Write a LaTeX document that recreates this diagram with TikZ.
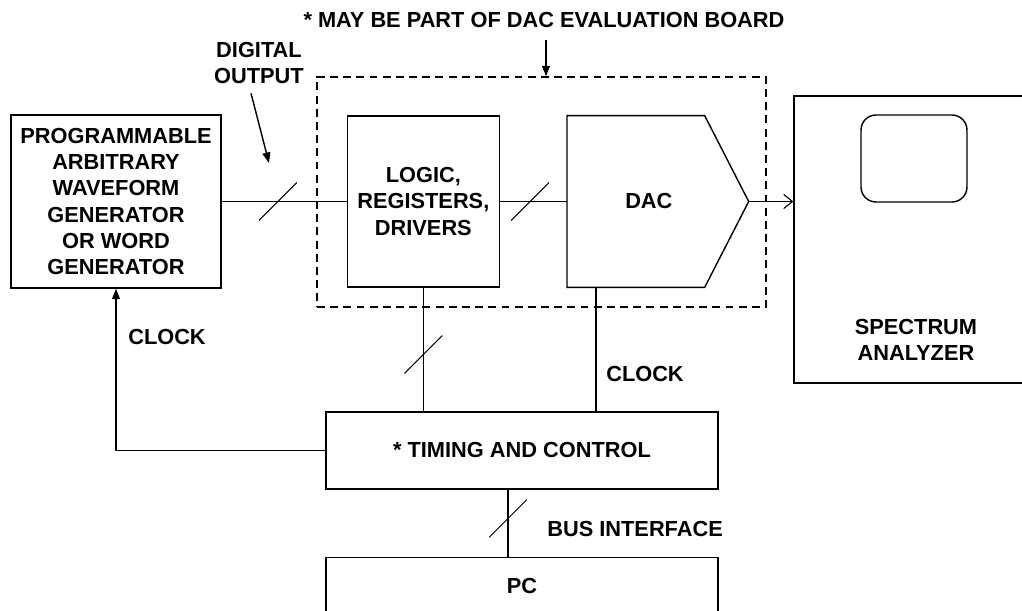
\documentclass[tikz,border=0pt]{standalone}
\usepackage{fontspec}
\setmainfont{Liberation Sans}
\usetikzlibrary{shapes, arrows, arrows.meta, positioning, fit}

\begin{document}
\begin{tikzpicture}[
    x=0.02cm, y=-0.02cm,
    txt/.style={font=\bfseries\fontsize{12.4}{15}\selectfont, align=center, inner sep=0pt},
    box/.style={draw=black, rectangle, thick, txt},
    slash/.style={inner sep=0pt, minimum size=0.76cm, path picture={\draw[line width=0.6pt] (path picture bounding box.south west) -- (path picture bounding box.north east);}},
    wire/.style={line width=0.8pt},
    arrow/.style={->, >={Triangle[length=6pt, width=4.5pt]}, line width=0.8pt},
    openarrow/.style={->, >={Straight Barb[length=5pt, width=8pt]}, line width=0.6pt}
]
\clip (0,0) rectangle (1022,611);

% signal chain
\node[box, minimum width=4.2cm, minimum height=3.46cm] (gen) at (116,201.5) {PROGRAMMABLE\\ARBITRARY\\WAVEFORM\\GENERATOR\\OR WORD\\GENERATOR};
\node[box, minimum width=3.04cm, minimum height=3.42cm, right=2.5cm of gen] (logic) {LOGIC,\\REGISTERS,\\DRIVERS};
\node[txt, minimum width=3.62cm, minimum height=3.42cm, right=1.34cm of logic, label={[txt, xshift=-0.18cm]center:DAC}] (dac) {};
\draw[thick] (dac.south west) -- (dac.north west) -- ([xshift=-0.88cm]dac.north east) -- (dac.east) -- ([xshift=-0.88cm]dac.south east) -- cycle;

% evaluation board
\node[draw, thick, dash pattern=on 4.5pt off 3pt, minimum width=8.98cm, minimum height=4.6cm] (board) at (541.5,192) {};
\node[txt] (note) at (544,20) {* MAY BE PART OF DAC EVALUATION BOARD};
\draw[arrow] (note.south) ++(2,12) coordinate (nt) -- (nt |- board.north);

% analyzer
\node[draw, thick, minimum width=4.92cm, minimum height=5.74cm] (sa) at (917,239.5) {};
\node[draw, thick, rounded corners=0.3cm, minimum width=2.12cm, minimum height=1.74cm] (screen) at (914,158.5) {};
\node[txt] (satext) at (916,340) {SPECTRUM\\ANALYZER};

% control
\node[box, minimum width=7.84cm, minimum height=1.54cm] (tc) at (522,450.5) {* TIMING AND CONTROL};
\node[box, minimum width=7.84cm, minimum height=1.16cm, below=1.34cm of tc] (pc) {PC};

% connections
\draw[wire] (gen.east) -- node[slash, pos=0.45] {} (logic.west);
\draw[wire] (logic.east) -- node[slash, pos=0.45] {} (dac.west);
\draw[openarrow] (dac.east) -- (dac.east -| sa.west);
\draw[wire] (logic.south) -- node[slash, pos=0.54] {} (logic.south |- tc.north);
\draw[wire] (dac.south west) ++(29,0) coordinate (dacclk) -- (dacclk |- tc.north);
\draw[arrow] (tc.west) -| (gen.south);
\draw[wire] (tc.south) ++(-14,0) coordinate (busx) -- node[slash, pos=0.43] {} (busx |- pc.north);

% labels
\node[txt] (dout) at (259,63) {DIGITAL\\OUTPUT};
\coordinate (doutend) at (269,163);
\draw[arrow] (dout.south) ++(-8,9) -- (doutend);
\node[txt] (clkgen) at (167,337) {CLOCK};
\node[txt] (clkdac) at (645,374) {CLOCK};
\node[txt, anchor=west] (bus) at (547,529) {BUS INTERFACE};
\end{tikzpicture}
\end{document}
